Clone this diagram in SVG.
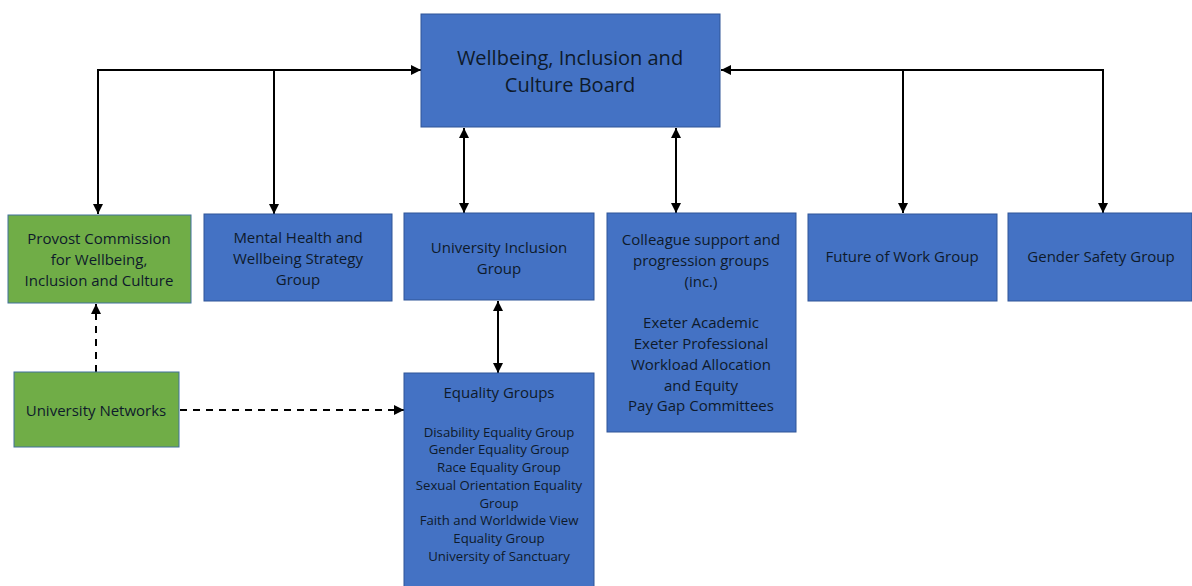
<svg xmlns="http://www.w3.org/2000/svg" width="1192" height="586" viewBox="0 0 1192 586">
<style>
.b{fill:#4472C4;stroke:#2F5597;stroke-width:1}
.g{fill:#70AD47;stroke:#41719C;stroke-width:1}
text{font-family:"Open Sans","Liberation Sans",sans-serif;fill:#0E1A2B;text-anchor:middle;dominant-baseline:central}
.t{font-size:15px}
.s{font-size:13.2px}
.h{font-size:20px}
.c{fill:none;stroke:#000;stroke-width:2}
.d{fill:none;stroke:#000;stroke-width:2;stroke-dasharray:7 6}
</style>
<defs>
<marker id="ae" viewBox="0 0 10 10" refX="10" refY="5" markerWidth="5" markerHeight="5" orient="auto" markerUnits="strokeWidth"><path d="M0,0L10,5L0,10z" fill="#000"/></marker>
<marker id="as" viewBox="0 0 10 10" refX="0" refY="5" markerWidth="5" markerHeight="5" orient="auto" markerUnits="strokeWidth"><path d="M10,0L0,5L10,10z" fill="#000"/></marker>
</defs>
<g id="connectors">
<path class="c" d="M98,214 V70 H421" marker-start="url(#as)" marker-end="url(#ae)"/>
<path class="c" d="M274,70 V214" marker-end="url(#ae)"/>
<path class="c" d="M1103,213 V70 H721" marker-start="url(#as)" marker-end="url(#ae)"/>
<path class="c" d="M903,70 V213" marker-end="url(#ae)"/>
<path class="c" d="M464,128 V213" marker-start="url(#as)" marker-end="url(#ae)"/>
<path class="c" d="M676,128 V213" marker-start="url(#as)" marker-end="url(#ae)"/>
<path class="c" d="M498,301 V373" marker-start="url(#as)" marker-end="url(#ae)"/>
<path class="d" d="M96,372 V304" marker-end="url(#ae)"/>
<path class="d" d="M180,410 H404" marker-end="url(#ae)"/>
</g>
<g id="board">
<rect class="b" x="421" y="14" width="299" height="113"/>
<text class="h" x="570" y="57">Wellbeing, Inclusion and</text>
<text class="h" x="570" y="84">Culture Board</text>
</g>
<g id="provost">
<rect class="g" x="8" y="215" width="183" height="88"/>
<text class="t" x="99" y="238">Provost Commission</text>
<text class="t" x="99" y="259">for Wellbeing,</text>
<text class="t" x="99" y="280">Inclusion and Culture</text>
</g>
<g id="mental-health">
<rect class="b" x="204" y="214" width="188" height="87"/>
<text class="t" x="298" y="237">Mental Health and</text>
<text class="t" x="298" y="258">Wellbeing Strategy</text>
<text class="t" x="298" y="279">Group</text>
</g>
<g id="inclusion-group">
<rect class="b" x="404" y="213" width="190" height="87"/>
<text class="t" x="499" y="247">University Inclusion</text>
<text class="t" x="499" y="268">Group</text>
</g>
<g id="colleague">
<rect class="b" x="607" y="213" width="189" height="219"/>
<text class="t" x="701" y="239">Colleague support and</text>
<text class="t" x="701" y="260">progression groups</text>
<text class="t" x="701" y="281">(inc.)</text>
<text class="t" x="701" y="322">Exeter Academic</text>
<text class="t" x="701" y="343">Exeter Professional</text>
<text class="t" x="701" y="364">Workload Allocation</text>
<text class="t" x="701" y="385">and Equity</text>
<text class="t" x="701" y="405">Pay Gap Committees</text>
</g>
<g id="future-work">
<rect class="b" x="808" y="214" width="189" height="87"/>
<text class="t" x="902" y="256">Future of Work Group</text>
</g>
<g id="gender-safety">
<rect class="b" x="1008" y="213" width="184" height="88"/>
<text class="t" x="1101" y="256">Gender Safety Group</text>
</g>
<g id="networks">
<rect class="g" x="14" y="372" width="165" height="75"/>
<text class="t" x="96" y="410">University Networks</text>
</g>
<g id="equality">
<rect class="b" x="404" y="373" width="190" height="220"/>
<text class="t" x="499" y="392">Equality Groups</text>
<text class="s" x="499" y="432">Disability Equality Group</text>
<text class="s" x="499" y="449">Gender Equality Group</text>
<text class="s" x="499" y="467">Race Equality Group</text>
<text class="s" x="499" y="485">Sexual Orientation Equality</text>
<text class="s" x="499" y="503">Group</text>
<text class="s" x="499" y="520">Faith and Worldwide View</text>
<text class="s" x="499" y="538">Equality Group</text>
<text class="s" x="499" y="556">University of Sanctuary</text>
</g>
</svg>
